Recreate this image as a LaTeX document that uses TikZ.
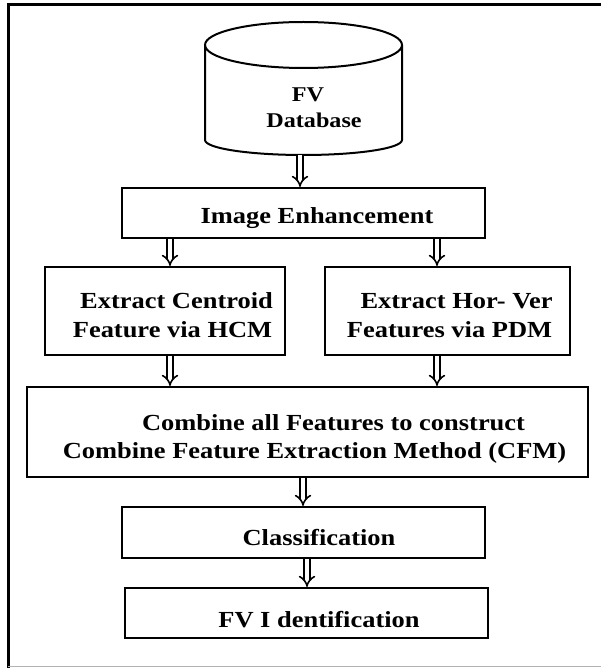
\documentclass[tikz,border=0pt]{standalone}
\usepackage{fontspec}
\setmainfont{Liberation Serif}[FakeStretch=1.15]
\usetikzlibrary{arrows.meta}
\begin{document}
\begin{tikzpicture}[x=1pt,y=-1pt,
  box/.style={draw, line width=2.2pt, inner sep=0pt, fill=white},
  txt/.style={anchor=base, inner sep=0pt, font=\fontsize{23}{28}\selectfont\bfseries},
  dbtxt/.style={anchor=base, inner sep=0pt, font=\fontsize{21}{24}\selectfont\bfseries},
  fat/.style={double, double distance=4pt, line width=1.6pt, -{Implies}},
]
\useasboundingbox (0,0) rectangle (601,668);
% frame
\draw[line width=3pt, line cap=rect] (601,5) -- (8,5) -- (8,668);
\draw[gray!60, line width=1pt] (8,666.5) -- (601,666.5);
% cylinder
\draw[line width=2pt] (205,45) -- (205,140) arc[start angle=180, end angle=360, x radius=98.5pt, y radius=15pt] -- (402,45);
\draw[line width=2pt] (303.5,45) ellipse[x radius=98.5pt, y radius=23pt];
\node[dbtxt] (fv) at (308,102) {FV};
\node[dbtxt] (dbase) at (314,128) {Database};
\coordinate (dbbot) at (300,155);
% boxes
\node[box, minimum width=363pt, minimum height=50pt] (ie) at (303.5,213) {};
\node[box, minimum width=240pt, minimum height=88pt] (lb) at (165,311) {};
\node[box, minimum width=245pt, minimum height=88pt] (rb) at (447.5,311) {};
\node[box, minimum width=561pt, minimum height=90pt] (cb) at (307.5,432) {};
\node[box, minimum width=363pt, minimum height=51pt] (cl) at (303.5,532.5) {};
\node[box, minimum width=363pt, minimum height=50pt] (fi) at (306.5,613) {};
% texts
\node[txt] (tie) at (317,223) {Image Enhancement};
\node[txt] (tlb1) at (176.5,308) {Extract Centroid};
\node[txt] (tlb2) at (172.5,337) {Feature via HCM};
\node[txt] (trb1) at (456.5,308) {Extract Hor- Ver};
\node[txt] (trb2) at (449.5,337) {Features via PDM};
\node[txt] (tcb1) at (333.5,430) {Combine all Features to construct};
\node[txt] (tcb2) at (314.5,458) {Combine Feature Extraction Method (CFM)};
\node[txt] (tcl) at (319,545) {Classification};
\node[txt] (tfi) at (319,627) {FV I dentification};
% arrows
\draw[fat] (dbbot) -- (300,0 |- ie.north);
\draw[fat] (170,0 |- ie.south) -- (170,0 |- lb.north);
\draw[fat] (437,0 |- ie.south) -- (437,0 |- rb.north);
\draw[fat] (170,0 |- lb.south) -- (170,0 |- cb.north);
\draw[fat] (437,0 |- rb.south) -- (437,0 |- cb.north);
\draw[fat] (303,0 |- cb.south) -- (303,0 |- cl.north);
\draw[fat] (307,0 |- cl.south) -- (307,0 |- fi.north);
\end{tikzpicture}
\end{document}
